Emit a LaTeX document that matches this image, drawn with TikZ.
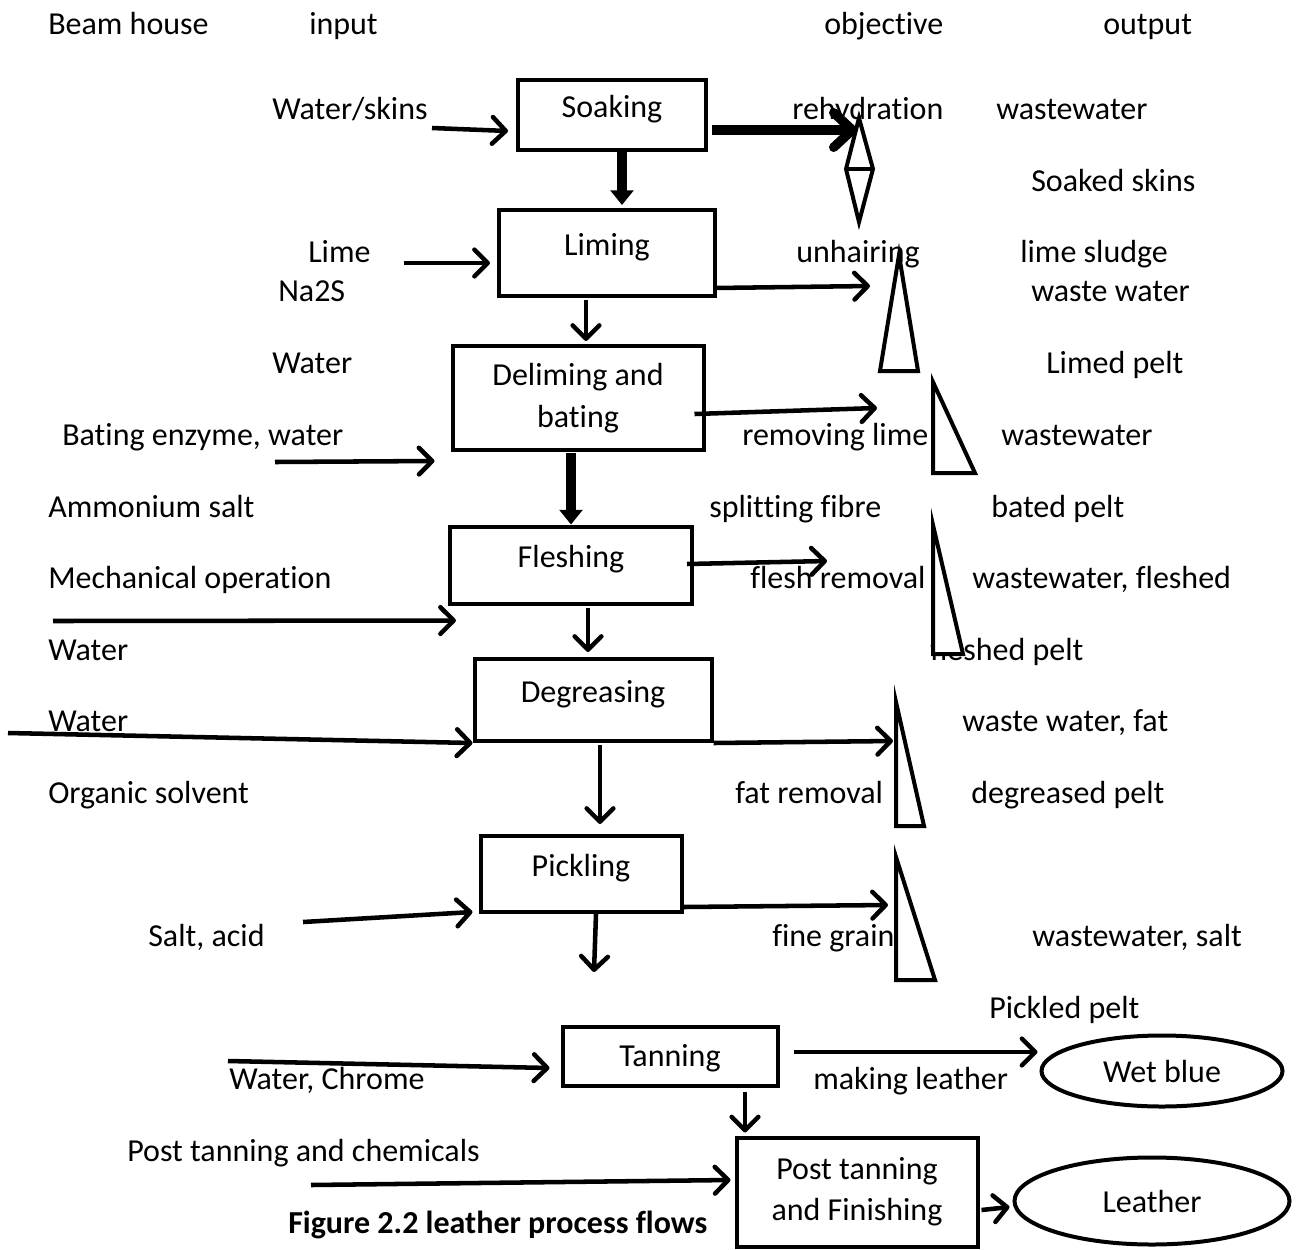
\documentclass[tikz,border=0pt]{standalone}
\usepackage{fontspec}
\setmainfont{Carlito}[Ligatures=NoCommon]
\usepackage{tikz}
\usetikzlibrary{shapes.geometric}
\usetikzlibrary{arrows.meta}
\usetikzlibrary{positioning}

\begin{document}
\begin{tikzpicture}[x=.75pt,y=-.75pt,
	every node/.style={font=\fontsize{24}{31}\selectfont},
	txt/.style={anchor=base west,inner sep=0pt},
	box/.style={draw,line width=3pt,inner sep=0pt,text height=16pt,text depth=12pt},
	boxtwo/.style={draw,line width=3pt,inner sep=0pt,align=center},
	oval/.style={draw,ellipse,line width=3pt,inner sep=0pt},
	arr/.style={line width=3.4pt,-{Straight Barb[length=10pt,width=20pt,round]}},
	fatarr/.style={line width=7pt,-{Triangle[length=11pt,width=17pt]}},
	tri/.style={line width=3pt}
]
	\def\px{.75pt}
	\useasboundingbox (0,0) rectangle (1300,1250);

	% column heads
	\node[txt] (hbeam) at (48,34) {Beam house};
	\node[txt] (hin) at (309,34) {input};
	\node[txt] (hobj) at (824,34) {objective};
	\node[txt] (hout) at (1103,34) {output};

	% left hand inputs
	\node[txt] (iskins) at (272,119) {Water/skins};
	\node[txt] (ilime) at (308,262) {Lime};
	\node[txt] (ina) at (278,301) {Na2S};
	\node[txt] (iwat1) at (272,373) {Water};
	\node[txt] (ibate) at (62,445) {Bating enzyme, water};
	\node[txt] (iamm) at (48,517) {Ammonium salt};
	\node[txt] (imech) at (48,588) {Mechanical operation};
	\node[txt] (iwat2) at (48,660) {Water};
	\node[txt] (iwat3) at (48,731) {Water};
	\node[txt] (iorg) at (48,803) {Organic solvent};
	\node[txt] (isalt) at (148,946) {Salt, acid};
	\node[txt] (ichrome) at (229,1089) {Water, Chrome};
	\node[txt] (ipost) at (127,1161) {Post tanning and chemicals};

	% objectives
	\node[txt] (orehyd) at (792,119) {rehydration};
	\node[txt] (ounhair) at (796,262) {unhairing};
	\node[txt] (oremlime) at (742,445) {removing lime};
	\node[txt] (osplit) at (709,517) {splitting fibre};
	\node[txt] (oflesh) at (750,588) {flesh removal};
	\node[txt] (ofat) at (735,803) {fat removal};
	\node[txt] (ograin) at (772,946) {fine grain};
	\node[txt] (omake) at (813,1089) {making leather};

	% outputs
	\node[txt] (uww1) at (996,119) {wastewater};
	\node[txt] (usoaked) at (1031,191) {Soaked skins};
	\node[txt] (usludge) at (1020,262) {lime sludge};
	\node[txt] (uww2) at (1031,301) {waste water};
	\node[txt] (ulimed) at (1046,373) {Limed pelt};
	\node[txt] (uww3) at (1001,445) {wastewater};
	\node[txt] (ubated) at (991,517) {bated pelt};
	\node[txt] (uww4) at (972,588) {wastewater, fleshed};
	\node[txt] (ufleshed) at (930,660) {fleshed pelt};
	\node[txt] (uww5) at (962,731) {waste water, fat};
	\node[txt] (udegr) at (971,803) {degreased pelt};
	\node[txt] (uww6) at (1032,946) {wastewater, salt};
	\node[txt] (upickled) at (989,1018) {Pickled pelt};

	% process steps
	\node[box,minimum width=188*\px,minimum height=70*\px] (soak) at (612,115) {Soaking};
	\node[box,minimum width=216*\px,minimum height=86*\px] (lime) at (607,253) {Liming};
	\node[boxtwo,minimum width=251*\px,minimum height=104*\px] (delime) at (578,398) {Deliming and\\bating};
	\node[box,minimum width=242*\px,minimum height=77*\px] (flesh) at (571,565) {Fleshing};
	\node[box,minimum width=237*\px,minimum height=82*\px] (degr) at (593,700) {Degreasing};
	\node[box,minimum width=201*\px,minimum height=76*\px] (pickl) at (581,874) {Pickling};
	\node[box,text depth=0pt,minimum width=215*\px,minimum height=59*\px] (tan) at (670,1056) {Tanning};
	\node[boxtwo,minimum width=241*\px,minimum height=109*\px] (post) at (857,1192) {Post tanning\\and Finishing};
	\node[oval,minimum width=241*\px,minimum height=71*\px] (wet) at (1162,1071) {Wet blue};
	\node[oval,minimum width=275*\px,minimum height=87*\px] (leather) at (1152,1201) {Leather};

	% free ends
	\coordinate (skins-src) at (432,128);
	\coordinate (lime-src) at (404,263);
	\coordinate (bate-src) at (275,462);
	\coordinate (mech-src) at (53,621);
	\coordinate (wat-src) at (8,733);
	\coordinate (salt-src) at (303,922);
	\coordinate (chrome-src) at (228,1061);
	\coordinate (post-src) at (311,1185);
	\coordinate (soak-out) at (857,130);
	\coordinate (lime-out) at (870,286);
	\coordinate (delime-out) at (877,408);
	\coordinate (flesh-out) at (827,561);
	\coordinate (degr-out) at (893,741);
	\coordinate (pickl-out) at (888,905);
	\coordinate (pickl-down) at (594,972);

	% waste cones
	\draw[tri] (859,118) -- (873,169) -- (859,222) -- (846,169) -- cycle;
	\draw[tri] (846,169) -- (873,169);
	\draw[tri] (899,255) -- (918,371) -- (880,371) -- cycle;
	\foreach \tx/\ty/\bx/\by in {933/382/975/473, 896/702/924/826, 896/857/935/980}
	  \draw[tri] (\tx,\ty) -- (\bx,\by) -- (\tx,\by) -- cycle;
	\draw[tri,fill=white] (933,525) -- (963,654) -- (933,654) -- cycle;

	% inputs
	\draw[arr] (skins-src) -- ([shift={(-8,16)}]soak.west);
	\draw[arr] (lime-src) -- ([shift={(-7,10)}]lime.west);
	\draw[arr] (bate-src) -- ([shift={(-16,63)}]delime.west);
	\draw[arr] (mech-src) -- ([shift={(8,15)}]flesh.south west);
	\draw[arr] (wat-src) -- (degr.south west);
	\draw[arr] (salt-src) -- ([shift={(-6,-2)}]pickl.south west);
	\draw[arr] (chrome-src) -- ([shift={(-11,12)}]tan.west);
	\draw[arr] (post-src) -- ([shift={(-4,-12)}]post.west);

	% main line
	\draw[fatarr] ([xshift=10*\px]soak.south) -- ([shift={(15,-3)}]lime.north);
	\draw[arr] ([shift={(-21,2)}]lime.south) -- ([shift={(8,-3)}]delime.north);
	\draw[fatarr] ([shift={(-7,1)}]delime.south) -- (flesh.north);
	\draw[arr] ([shift={(17,2)}]flesh.south) -- ([shift={(-5,-5)}]degr.north);
	\draw[arr] ([shift={(7,2)}]degr.south) -- ([shift={(19,-10)}]pickl.north);
	\draw[arr] ([xshift=15*\px]pickl.south) -- (pickl-down);
	\draw[arr] ([shift={(75,4)}]tan.south) -- ([shift={(-112,-3)}]post.north);

	% outputs
	\draw[line width=7pt,-{Straight Barb[length=14pt,width=26pt,round]}] ([shift={(4,15)}]soak.east) -- (soak-out);
	\draw[arr] ([shift={(-2,-10)}]lime.south east) -- (lime-out);
	\draw[arr] ([shift={(-11,16)}]delime.east) -- (delime-out);
	\draw[arr] ([shift={(-7,-1)}]flesh.east) -- (flesh-out);
	\draw[arr] (degr.south east) -- (degr-out);
	\draw[arr] ([yshift=7*\px]pickl.south east) -- (pickl-out);
	\draw[arr] ([shift={(14,-4)}]tan.east) -- ([shift={(-2,-19)}]wet.west);
	\draw[arr] ([shift={(2,18)}]post.east) -- ([shift={(-3,6)}]leather.west);

	\node[txt,font=\fontsize{24}{31}\selectfont\bfseries] (title) at (288,1233) {Figure 2.2 leather process flows};
\end{tikzpicture}
\end{document}
